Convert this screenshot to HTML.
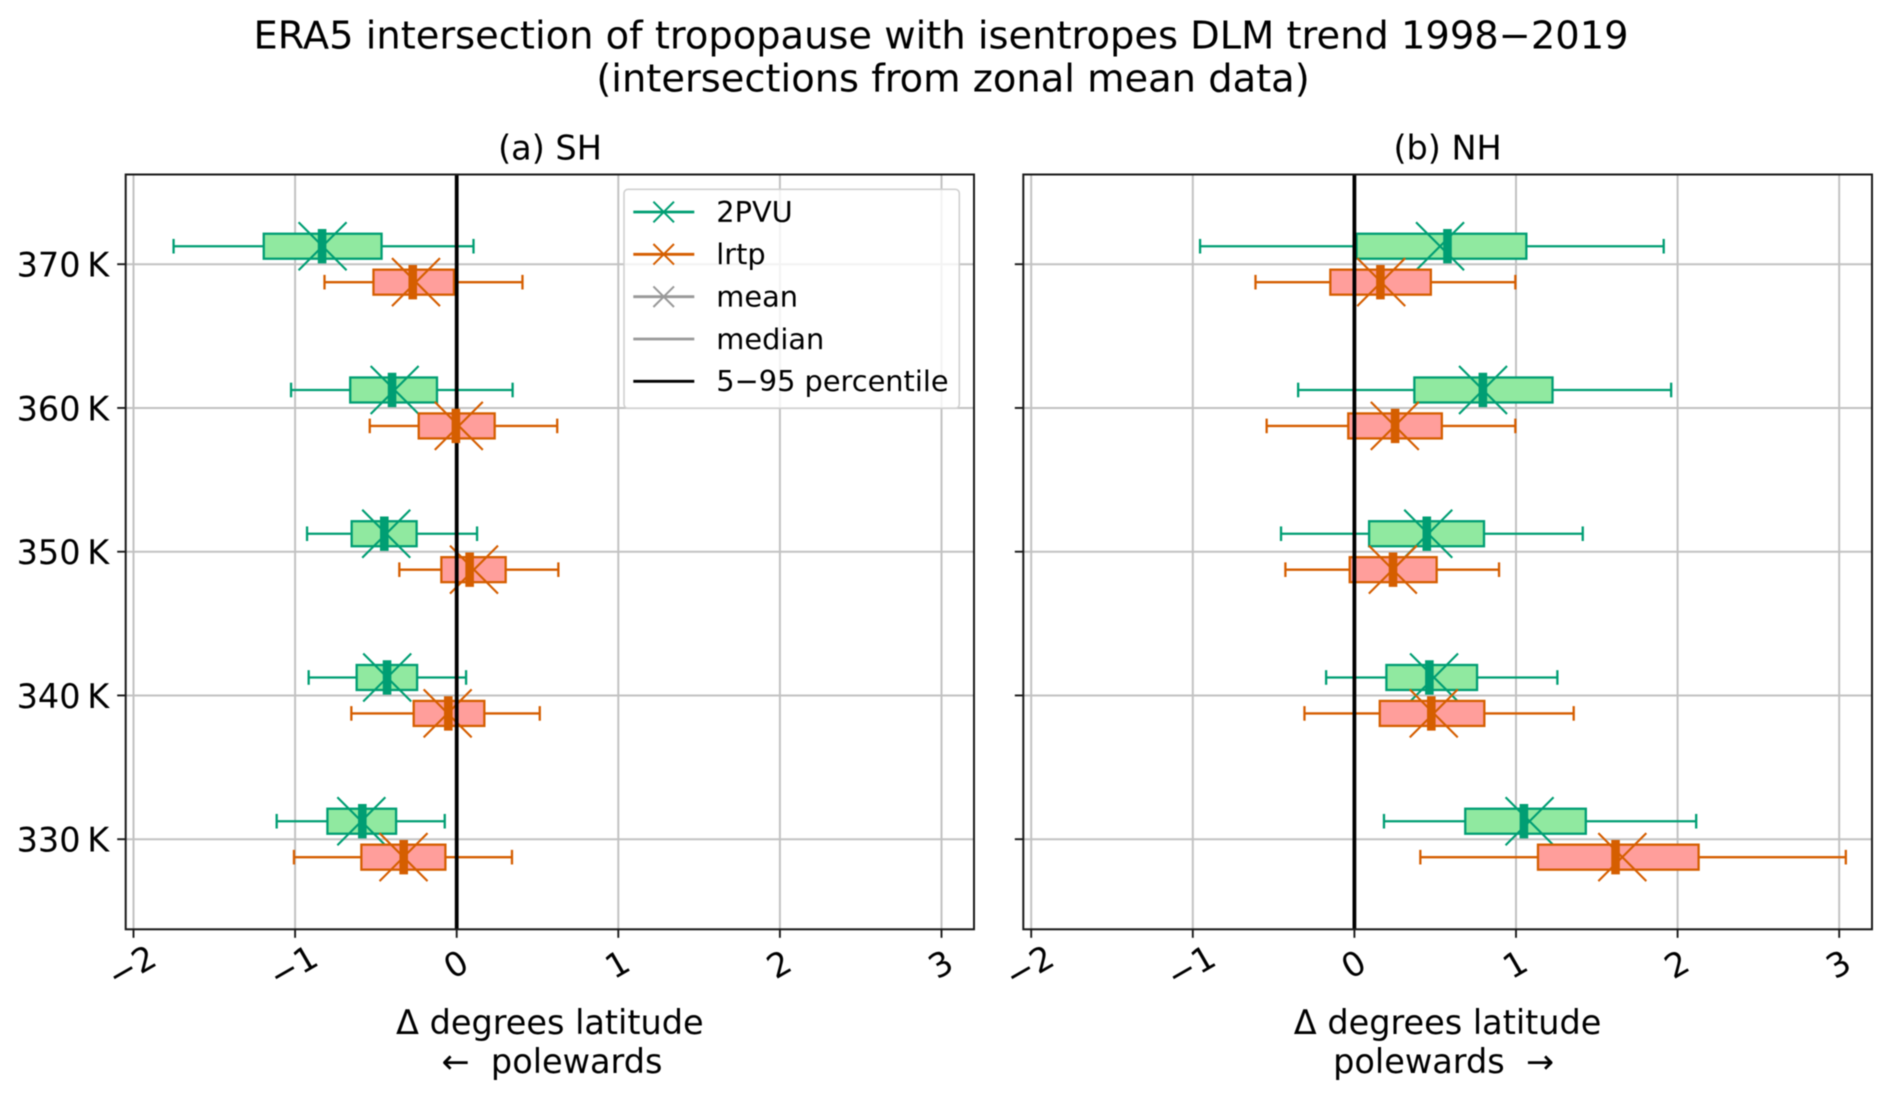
<!DOCTYPE html>
<html lang="en">
<head>
<meta charset="utf-8">
<title>ERA5 intersection of tropopause with isentropes</title>
<style>
html,body{margin:0;padding:0;background:#fff;}
svg{display:block;filter:blur(0.5px);}
text{font-family:"DejaVu Sans","Liberation Sans",sans-serif;fill:#000;}
.title{font-size:38.4px;}
.big{font-size:33.5px;}
.leg{font-size:28.8px;}
</style>
</head>
<body>
<svg id="chart" xmlns="http://www.w3.org/2000/svg" width="1892" height="1099" viewBox="0 0 1892 1099">
  <rect x="0" y="0" width="1892" height="1099" fill="#fff"/>
  <text class="title" x="941" y="48.3" text-anchor="middle">ERA5 intersection of tropopause with isentropes DLM trend 1998−2019</text>
  <text class="title" x="953" y="91.5" text-anchor="middle">(intersections from zonal mean data)</text>
  <text class="big" x="550" y="159.5" text-anchor="middle">(a) SH</text>
  <text class="big" x="1447.6" y="159.5" text-anchor="middle">(b) NH</text>
  <text class="big" x="549.8" y="1034" text-anchor="middle">Δ degrees latitude</text>
  <text class="big" x="552" y="1073" text-anchor="middle">←&#160;&#160;polewards</text>
  <text class="big" x="1447.6" y="1034" text-anchor="middle">Δ degrees latitude</text>
  <text class="big" x="1443.6" y="1073" text-anchor="middle">polewards&#160;&#160;→</text>
  <g id="panelA"></g>
  <g id="panelB"></g>
  <g>
    <rect x="624" y="189.3" width="335.3" height="219" rx="4" ry="4" fill="#fff" fill-opacity="0.8" stroke="#d0d0d0" stroke-width="1.6"/>
    <g>
      <line x1="633.3" x2="694.3" y1="212" y2="212" stroke="#009e73" stroke-width="2.8"/>
      <path d="M653.4 201.7L674 222.3M653.4 222.3L674 201.7" stroke="#009e73" stroke-width="2" fill="none"/>
      <text class="leg" x="716.3" y="221.9">2PVU</text>
    </g>
    <g>
      <line x1="633.3" x2="694.3" y1="254.3" y2="254.3" stroke="#d55e00" stroke-width="2.8"/>
      <path d="M653.4 244L674 264.6M653.4 264.6L674 244" stroke="#d55e00" stroke-width="2" fill="none"/>
      <text class="leg" x="716.3" y="264.2">lrtp</text>
    </g>
    <g>
      <line x1="633.3" x2="694.3" y1="296.7" y2="296.7" stroke="#999" stroke-width="2.8"/>
      <path d="M653.4 286.4L674 307M653.4 307L674 286.4" stroke="#999" stroke-width="2" fill="none"/>
      <text class="leg" x="716.3" y="306.5">mean</text>
    </g>
    <g>
      <line x1="633.3" x2="694.3" y1="339" y2="339" stroke="#999" stroke-width="2.8"/>
      <text class="leg" x="716.3" y="348.8">median</text>
    </g>
    <g>
      <line x1="633.3" x2="694.3" y1="381.3" y2="381.3" stroke="#000" stroke-width="2.8"/>
      <text class="leg" x="716.3" y="391.1">5−95 percentile</text>
    </g>
  </g>
</svg>
<script>
// Categories and ticks
const levels = [370, 360, 350, 340, 330];
const levelLabels = ['370\u2009K', '360\u2009K', '350\u2009K', '340\u2009K', '330\u2009K'];
const xTicks = [-2, -1, 0, 1, 2, 3];
const xTickLabels = ['\u22122', '\u22121', '0', '1', '2', '3'];

// (a) SH, 2PVU
const sh2pvuLow = [-1.752, -1.025, -0.926, -0.916, -1.114];
const sh2pvuQ1 = [-1.194, -0.659, -0.650, -0.619, -0.800];
const sh2pvuMedian = [-0.833, -0.400, -0.448, -0.431, -0.584];
const sh2pvuMean = [-0.830, -0.384, -0.436, -0.430, -0.590];
const sh2pvuQ3 = [-0.465, -0.122, -0.248, -0.245, -0.375];
const sh2pvuHigh = [0.104, 0.346, 0.126, 0.058, -0.074];

// (a) SH, lrtp
const shLrtpLow = [-0.818, -0.538, -0.355, -0.652, -1.007];
const shLrtpQ1 = [-0.515, -0.235, -0.095, -0.266, -0.590];
const shLrtpMedian = [-0.272, -0.005, 0.080, -0.052, -0.328];
const shLrtpMean = [-0.252, 0.013, 0.107, -0.056, -0.329];
const shLrtpQ3 = [-0.017, 0.235, 0.303, 0.171, -0.070];
const shLrtpHigh = [0.407, 0.622, 0.629, 0.514, 0.342];

// (b) NH, 2PVU
const nh2pvuLow = [-0.955, -0.348, -0.454, -0.175, 0.183];
const nh2pvuQ1 = [0.013, 0.371, 0.091, 0.198, 0.686];
const nh2pvuMedian = [0.576, 0.795, 0.448, 0.464, 1.049];
const nh2pvuMean = [0.530, 0.796, 0.457, 0.493, 1.084];
const nh2pvuQ3 = [1.064, 1.226, 0.802, 0.759, 1.432];
const nh2pvuHigh = [1.914, 1.960, 1.413, 1.256, 2.115];

// (b) NH, lrtp
const nhLrtpLow = [-0.612, -0.543, -0.427, -0.309, 0.408];
const nhLrtpQ1 = [-0.149, -0.038, -0.029, 0.157, 1.136];
const nhLrtpMedian = [0.161, 0.252, 0.239, 0.476, 1.616];
const nhLrtpMean = [0.166, 0.250, 0.238, 0.491, 1.658];
const nhLrtpQ3 = [0.473, 0.541, 0.509, 0.804, 2.130];
const nhLrtpHigh = [0.996, 0.996, 0.895, 1.357, 3.041];

const SVG_NS = 'http://www.w3.org/2000/svg';
function yScale(level) { return 839.2 - (level - 330) * 14.375; }
function make(parent, tag, attrs) {
  const el = document.createElementNS(SVG_NS, tag);
  for (const k in attrs) { el.setAttribute(k, attrs[k]); }
  parent.appendChild(el);
  return el;
}

function drawSeries(layer, medianLayer, xScale, spec, prefix) {
  levels.forEach(function (level, i) {
    const yc = yScale(level + spec.levelOffset);
    const g = make(layer, 'g', {});
    
    

    const whisker = make(g, 'line', {x1: xScale(spec.low[i]), x2: xScale(spec.high[i]), y1: yc, y2: yc, stroke: spec.color, 'stroke-width': 2.3});
    
    

    const capLow = make(g, 'line', {x1: xScale(spec.low[i]), x2: xScale(spec.low[i]), y1: yc - 7.3, y2: yc + 7.3, stroke: spec.color, 'stroke-width': 2.3});
    
    

    const capHigh = make(g, 'line', {x1: xScale(spec.high[i]), x2: xScale(spec.high[i]), y1: yc - 7.3, y2: yc + 7.3, stroke: spec.color, 'stroke-width': 2.3});
    
    

    const box = make(g, 'rect', {x: xScale(spec.q1[i]), y: yc - 12.5, width: xScale(spec.q3[i]) - xScale(spec.q1[i]), height: 25, fill: spec.fill, stroke: spec.color, 'stroke-width': 2.3});
    
    

    const mx = xScale(spec.mean[i]);
    const mean = make(g, 'path', {d: 'M' + (mx - 24) + ' ' + (yc - 24) + 'L' + (mx + 24) + ' ' + (yc + 24) + 'M' + (mx - 24) + ' ' + (yc + 24) + 'L' + (mx + 24) + ' ' + (yc - 24), stroke: spec.color, 'stroke-width': 2.1, fill: 'none'});
    
    

    const median = make(medianLayer, 'line', {x1: xScale(spec.median[i]), x2: xScale(spec.median[i]), y1: yc - 17.2, y2: yc + 17.2, stroke: spec.color, 'stroke-width': 8.6});
    
    
  });
}

function drawPanel(root, prefix, frame, seriesList, showLevelLabels) {
  const xScale = function (v) { return frame.zero + v * frame.unit; };
  const top = 174.5, bottom = 929.3;

  const grid = make(root, 'g', {});
  
  

  xTicks.forEach(function (t) {
    const l = make(grid, 'line', {x1: xScale(t), x2: xScale(t), y1: top, y2: bottom, stroke: '#c2c2c2', 'stroke-width': 2});
    
    
  });
  levels.forEach(function (level) {
    const l = make(grid, 'line', {x1: frame.left, x2: frame.right, y1: yScale(level), y2: yScale(level), stroke: '#c2c2c2', 'stroke-width': 2});
    
    
  });

  const marks = make(root, 'g', {});
  
  

  const zero = make(root, 'line', {x1: xScale(0), x2: xScale(0), y1: top, y2: bottom, stroke: '#000', 'stroke-width': 3.8});
  
  

  const medians = make(root, 'g', {});
  
  

  seriesList.forEach(function (spec) { drawSeries(marks, medians, xScale, spec, prefix); });

  const spine = make(root, 'rect', {x: frame.left, y: top, width: frame.right - frame.left, height: bottom - top, fill: 'none', stroke: '#1a1a1a', 'stroke-width': 2});
  
  

  xTicks.forEach(function (t, i) {
    const tick = make(root, 'line', {x1: xScale(t), x2: xScale(t), y1: bottom, y2: bottom + 8.5, stroke: '#1a1a1a', 'stroke-width': 1.9});
    
    

    const cx = xScale(t) + (t < 0 ? -2 : -1);
    const cy = t < 0 ? 966 : 964;
    const label = make(root, 'text', {x: cx, y: cy + 12, 'text-anchor': 'middle', 'font-size': 33.5, transform: 'rotate(-30 ' + cx + ' ' + cy + ')'});
    label.textContent = xTickLabels[i];
    
    
  });

  levels.forEach(function (level, i) {
    const tick = make(root, 'line', {x1: frame.left - 8.5, x2: frame.left, y1: yScale(level), y2: yScale(level), stroke: '#1a1a1a', 'stroke-width': 1.9});
    
    

    if (showLevelLabels) {
      const label = make(root, 'text', {x: frame.left - 16.5, y: yScale(level) + 12.4, 'text-anchor': 'end', 'font-size': 33.5});
      label.textContent = levelLabels[i];
      
      
    }
  });
}

const GREEN = {name: '2pvu', color: '#009e73', fill: '#90e9a0', levelOffset: 1.25};
const ORANGE = {name: 'lrtp', color: '#d55e00', fill: '#ff9e9b', levelOffset: -1.25};

drawPanel(document.getElementById('panelA'), 'panel-a', {left: 125.7, right: 974, zero: 456.7, unit: 161.6}, [
  Object.assign({}, GREEN, {low: sh2pvuLow, q1: sh2pvuQ1, median: sh2pvuMedian, mean: sh2pvuMean, q3: sh2pvuQ3, high: sh2pvuHigh}),
  Object.assign({}, ORANGE, {low: shLrtpLow, q1: shLrtpQ1, median: shLrtpMedian, mean: shLrtpMean, q3: shLrtpQ3, high: shLrtpHigh})
], true);

drawPanel(document.getElementById('panelB'), 'panel-b', {left: 1023.3, right: 1872, zero: 1354.4, unit: 161.6}, [
  Object.assign({}, GREEN, {low: nh2pvuLow, q1: nh2pvuQ1, median: nh2pvuMedian, mean: nh2pvuMean, q3: nh2pvuQ3, high: nh2pvuHigh}),
  Object.assign({}, ORANGE, {low: nhLrtpLow, q1: nhLrtpQ1, median: nhLrtpMedian, mean: nhLrtpMean, q3: nhLrtpQ3, high: nhLrtpHigh})
], false);
</script>
</body>
</html>
